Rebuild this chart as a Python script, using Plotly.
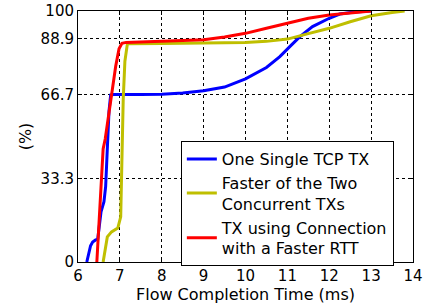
import plotly.graph_objects as go

# Data (CDF of flow completion time)
blue_x = [6.21, 6.25, 6.30, 6.35, 6.42, 6.47, 6.50, 6.55, 6.62, 6.66, 6.70, 6.74, 6.78, 6.85,
          7.5, 8.0, 8.5, 9.0, 9.5, 10.0, 10.5, 10.82, 11.1, 11.3, 11.6, 12.0, 12.25, 12.6, 13.0]
blue_y = [0, 3, 6.5, 8, 8.8, 9, 13, 20, 24, 30, 45, 60, 66.5, 66.7,
          66.7, 66.8, 67.3, 68.2, 69.7, 73, 77.5, 81.8, 86.5, 89.8, 93.8, 97.1, 98.8, 99.6, 100]

yellow_x = [6.60, 6.65, 6.70, 6.80, 6.95, 7.02, 7.05, 7.08, 7.12, 7.18,
            8.0, 9.0, 10.0, 10.5, 11.0, 11.5, 12.0, 12.5, 13.0, 13.5, 13.8]
yellow_y = [0, 6, 10, 12, 13.5, 18, 40, 65, 80, 87,
            87.1, 87.2, 87.5, 87.9, 88.8, 91, 93.1, 95.7, 98.1, 99.4, 100]

red_x = [6.45, 6.50, 6.55, 6.60, 6.65, 6.70, 6.80, 6.90, 6.98, 7.05, 7.15,
         8.0, 9.0, 9.5, 10.0, 10.5, 11.0, 11.5, 12.0, 12.5, 13.0]
red_y = [0, 15, 35, 45, 49, 55, 66, 78, 85, 87.1, 87.5,
         88, 88.5, 89.6, 91.1, 93.1, 95.1, 97.1, 98.4, 99.3, 100]

names = ["One Single TCP TX", "Faster of the Two<br>Concurrent TXs",
         "TX using Connection<br>with a Faster RTT"]
colors = ["#0000ff", "#bfbf00", "#ff0000"]

x_ticks = [6, 7, 8, 9, 10, 11, 12, 13, 14]
y_ticks = [0, 33.3, 66.7, 88.9, 100]
y_tick_labels = ["0", "33.3", "66.7", "88.9", "100"]

FONT = "DejaVu Sans"
TICK_FS = 15
LABEL_FS = 16

fig = go.Figure()
for xs, ys, nm, c in zip([blue_x, yellow_x, red_x], [blue_y, yellow_y, red_y], names, colors):
    fig.add_trace(go.Scatter(x=xs, y=ys, mode="lines", name=nm,
                             line=dict(color=c, width=3)))

axis_common = dict(showline=True, linecolor="black", linewidth=1, mirror="allticks",
                   ticks="inside", ticklen=4, tickcolor="black", automargin=False,
                   showgrid=True, gridcolor="black", gridwidth=1, griddash="dot",
                   zeroline=False, tickfont=dict(family=FONT, size=TICK_FS, color="black"))

fig.update_xaxes(range=[6, 14], tickvals=x_ticks, ticktext=[str(v) for v in x_ticks],
                 title=dict(text="Flow Completion Time (ms)",
                            font=dict(family=FONT, size=LABEL_FS, color="black"), standoff=0),
                 **axis_common)
fig.update_yaxes(range=[0, 100], tickvals=y_ticks, ticktext=y_tick_labels,
                 title=dict(text="(%)", font=dict(family=FONT, size=LABEL_FS, color="black"), standoff=4),
                 **axis_common)

fig.update_layout(
    width=440, height=307,
    margin=dict(l=78, r=27, t=11, b=45),
    paper_bgcolor="white", plot_bgcolor="white",
    font=dict(family=FONT, color="black"),
    showlegend=True,
    legend=dict(x=0.307, y=0.482, xanchor="left", yanchor="top",
                bordercolor="black", borderwidth=1, bgcolor="white",
                font=dict(family=FONT, size=LABEL_FS, color="black"),
                tracegroupgap=2, itemwidth=30),
)

fig.write_html("out.html", config={"displayModeBar": False},
               post_script="document.body.style.margin='0';document.body.style.padding='0';")
